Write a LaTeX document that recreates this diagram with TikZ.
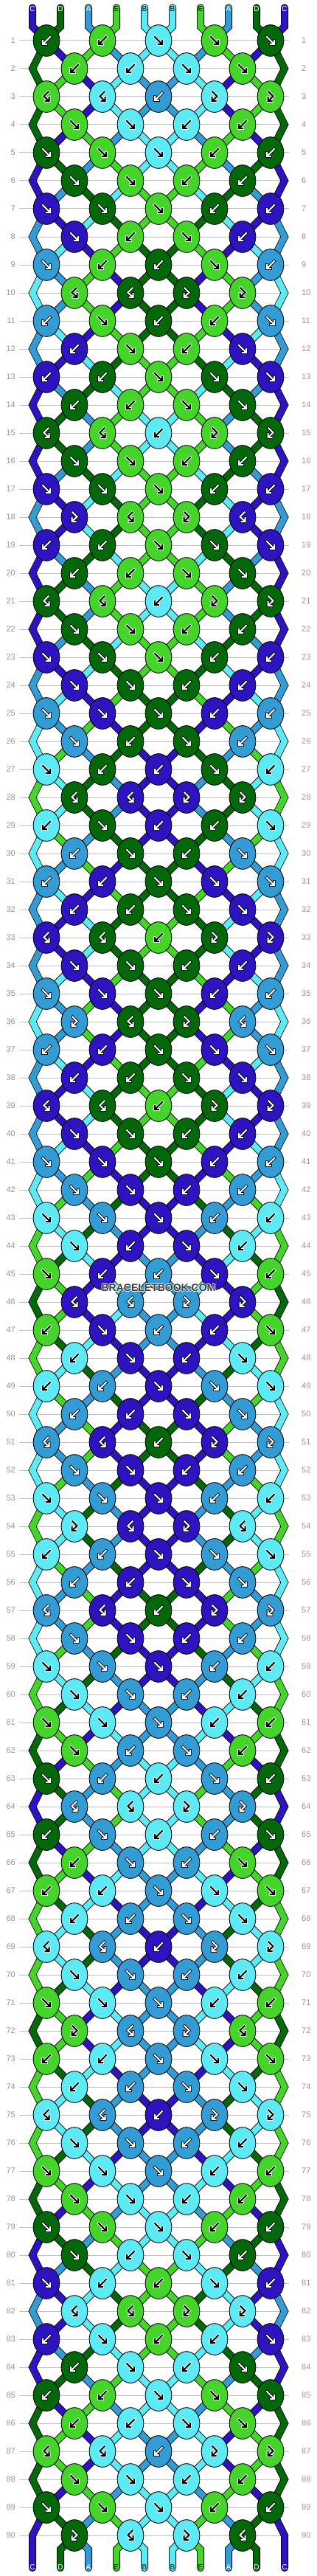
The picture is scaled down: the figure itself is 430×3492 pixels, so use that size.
\documentclass[tikz,border=0pt]{standalone}
\usepackage{fontspec}
\setmainfont{Liberation Sans}
\usetikzlibrary{shapes.geometric}
\definecolor{colC}{RGB}{46,20,192}
\definecolor{colD}{RGB}{2,104,10}
\definecolor{colA}{RGB}{52,156,212}
\definecolor{colE}{RGB}{69,212,42}
\definecolor{colY}{RGB}{92,234,244}
\definecolor{gridgray}{RGB}{192,192,192}
\definecolor{labelgray}{RGB}{150,150,150}
\definecolor{wmgray}{RGB}{58,58,58}

\newif\ifbbknots
\newcommand\setS[2]{\expandafter\xdef\csname bbS#1\endcsname{#2}}
\newcommand\getS[1]{\csname bbS#1\endcsname}
\newcommand\setP[2]{\expandafter\xdef\csname bbP#1\endcsname{#2}}
\newcommand\getP[1]{\csname bbP#1\endcsname}
\newcommand\bbinit{\setS{1}{C}\setS{2}{D}\setS{3}{A}\setS{4}{E}\setS{5}{Y}%
  \setS{6}{Y}\setS{7}{E}\setS{8}{A}\setS{9}{D}\setS{10}{C}}

\newcommand\bbmirror[1]{\if#1fb\else\if#1bf\else\if#1FK\else F\fi\fi\fi}
\def\bbparse#1#2#3\bbend{\def\tyA{#1}\def\tyB{#2}\def\tyC{#3}}

\newcommand\slotname[2]{%
  \ifodd#1\relax
    \pgfmathtruncatemacro\bbk{2*int((#2+1)/2)-1}%
    \edef\sn{k#1-\bbk}%
  \else
    \ifnum#2=1\relax \edef\sn{e#1-1}%
    \else\ifnum#2=10\relax \edef\sn{e#1-10}%
    \else \pgfmathtruncatemacro\bbk{2*int(#2/2)}\edef\sn{k#1-\bbk}%
    \fi\fi
  \fi}

\newcommand\bbthread[2]{%
  \edef\bbtc{#1}%
  \draw[threadborder] #2;
  \draw[thread, draw=col\bbtc] #2;}

\newcommand\bbdrawarrow[3]{%
  \draw[shift={(#2,#3)}, draw=\abg, line width=3.8pt, line join=miter, line cap=rect] #1;
  \draw[shift={(#2,#3)}, draw=\afg, line width=2.0pt, line join=miter, line cap=rect] #1;}

\newcommand\bbarrow[4]{% type, x, y, colour letter
  \def\afg{white}\def\abg{black}%
  \if#4E\def\afg{black}\def\abg{white}\fi
  \if#4Y\def\afg{black}\def\abg{white}\fi
  \if#1f\def\apath{(-5,-5)--(4.6,4.6) (0,5)--(5,5)--(5,0)}\fi
  \if#1b\def\apath{(5,-5)--(-4.6,4.6) (0,5)--(-5,5)--(-5,0)}\fi
  \if#1K\def\apath{(2.5,-6.5)--(-3.5,-0.5)--(3,5.5) (-1.5,6)--(3.5,6)--(3.5,1)}\fi
  \if#1F\def\apath{(-2.5,-6.5)--(3.5,-0.5)--(-3,5.5) (1.5,6)--(-3.5,6)--(-3.5,1)}\fi
  \expandafter\bbdrawarrow\expandafter{\apath}{#2}{#3}}

\newcommand\bbknot[4]{% left position, type, x, y
  \pgfmathtruncatemacro\bbq{#1+1}%
  \edef\bbL{\getS{#1}}\edef\bbR{\getS{\bbq}}%
  \if#2f\edef\kc{\bbL}\setS{#1}{\bbR}\setS{\bbq}{\bbL}\fi
  \if#2b\edef\kc{\bbR}\setS{#1}{\bbR}\setS{\bbq}{\bbL}\fi
  \if#2F\edef\kc{\bbL}\fi
  \if#2K\edef\kc{\bbR}\fi
  \ifbbknots
    \node[knot, fill=col\kc] (n\rw-#1) at (#3,#4) {};
    \bbarrow{#2}{#3}{#4}{\kc}%
  \else
    \coordinate (k\rw-#1) at (#3,#4);
  \fi}

\newcommand\bbpass{%
\foreach \rep in {0,...,4}{%
 \foreach \tcode [count=\j] in {bbf,bb,KKb,ff,fff,ff,fff,fb,fbb,KK,bfb,bf,bbf,bb,KKb,ff,fff,FK}{%
  \pgfmathtruncatemacro\rw{18*\rep+\j}%
  \pgfmathsetmacro\y{17+38*\rw}%
  \expandafter\bbparse\tcode\bbend
  \foreach \i in {1,...,10}{\setP{\i}{\getS{\i}}}%
  \ifodd\rw\relax
    \bbknot{1}{\tyA}{63}{\y}%
    \bbknot{3}{\tyB}{139}{\y}%
    \bbknot{5}{\tyC}{215}{\y}%
    \edef\myB{\bbmirror\tyB}\bbknot{7}{\myB}{291}{\y}%
    \edef\myA{\bbmirror\tyA}\bbknot{9}{\myA}{367}{\y}%
  \else
    \bbknot{2}{\tyA}{101}{\y}%
    \bbknot{4}{\tyB}{177}{\y}%
    \edef\myB{\bbmirror\tyB}\bbknot{6}{\myB}{253}{\y}%
    \edef\myA{\bbmirror\tyA}\bbknot{8}{\myA}{329}{\y}%
    \ifbbknots\else
      \coordinate (e\rw-1) at (44,\y);
      \coordinate (e\rw-10) at (386,\y);
    \fi
  \fi
  \ifbbknots\else
  \ifnum\rw=1\relax
    \foreach \i in {1,...,10}{%
      \pgfmathsetmacro\xs{6+38*\i}%
      \coordinate (t-\i) at (\xs,10.5);
      \coordinate (tb-\i) at (\xs,36);
      \slotname{1}{\i}%
      \bbthread{\getP{\i}}{(t-\i) -- (tb-\i) -- (\sn)}}%
  \else
    \pgfmathtruncatemacro\rp{\rw-1}%
    \foreach \i in {2,...,9}{%
      \slotname{\rp}{\i}\let\sna\sn
      \slotname{\rw}{\i}\let\snb\sn
      \bbthread{\getP{\i}}{(\sna) -- (\snb)}}%
    \ifodd\rw\relax
      \pgfmathtruncatemacro\rpp{\rw-2}%
      \bbthread{\getP{1}}{(k\rpp-1) -- (e\rp-1) -- (k\rw-1)}%
      \bbthread{\getP{10}}{(k\rpp-9) -- (e\rp-10) -- (k\rw-9)}%
    \fi
  \fi
  \ifnum\rw=90\relax
    \foreach \i in {1,...,10}{%
      \pgfmathsetmacro\xs{6+38*\i}%
      \coordinate (bb-\i) at (\xs,3456);
      \coordinate (b-\i) at (\xs,3481);}%
    \foreach \i in {2,...,9}{%
      \slotname{90}{\i}%
      \bbthread{\getS{\i}}{(\sn) -- (bb-\i) -- (b-\i)}}%
    \bbthread{\getS{1}}{(k89-1) -- (e90-1) -- (b-1)}%
    \bbthread{\getS{10}}{(k89-9) -- (e90-10) -- (b-10)}%
  \fi
  \fi
 }%
}}

\begin{document}
\begin{tikzpicture}[x=1pt,y=-1pt,
  knot/.style={ellipse, draw=black, line width=0.9pt, minimum width=35.7pt, minimum height=42.7pt, inner sep=0pt},
  threadborder/.style={draw=black, line width=10pt, line cap=round, line join=miter},
  thread/.style={line width=8.3pt, line cap=round, line join=miter},
  rowline/.style={draw=gridgray, line width=1pt},
  rowlabel/.style={text=labelgray, font=\fontsize{11}{13}\selectfont, inner sep=0pt},
  strlabel/.style={font=\fontsize{10}{12}\selectfont, inner sep=0pt},
  wm/.style={font=\bfseries\fontsize{14}{16}\selectfont, inner sep=0pt}]
\useasboundingbox (0,0) rectangle (430,3492);

% grid lines and row numbers
\foreach \rw in {1,...,90}{%
  \pgfmathsetmacro\y{17+38*\rw}%
  \coordinate (gl\rw) at (26,\y);
  \coordinate (gr\rw) at (392,\y);
  \draw[rowline] (gl\rw) -- (gr\rw);
  \node[rowlabel, anchor=east] (ll\rw) at (21,\y) {\rw};
  \node[rowlabel, anchor=west] (lr\rw) at (409,\y) {\rw};
}

% threads
\bbinit\bbknotsfalse\bbpass
% knots
\bbinit\bbknotstrue\bbpass

% string letters
\foreach \i/\lab/\lcol in {1/C/white,2/D/white,3/A/white,4/E/black,5/B/black,6/B/black,7/E/black,8/A/white,9/D/white,10/C/white}{%
  \pgfmathsetmacro\xs{6+38*\i}%
  \node[strlabel, text=\lcol] (lt\i) at (\xs,12.5) {\lab};
  \node[strlabel, text=\lcol] (lb\i) at (\xs,3480.5) {\lab};
}

% watermark
\node[wm, text=white] (wmh1) at (215.8,1745.5) {BRACELETBOOK.COM};
\node[wm, text=white] (wmh2) at (214.2,1745.5) {BRACELETBOOK.COM};
\node[wm, text=white] (wmh3) at (215,1746.3) {BRACELETBOOK.COM};
\node[wm, text=white] (wmh4) at (215,1744.7) {BRACELETBOOK.COM};
\node[wm, text=wmgray] (wm) at (215,1745.5) {BRACELETBOOK.COM};
\end{tikzpicture}
\end{document}
